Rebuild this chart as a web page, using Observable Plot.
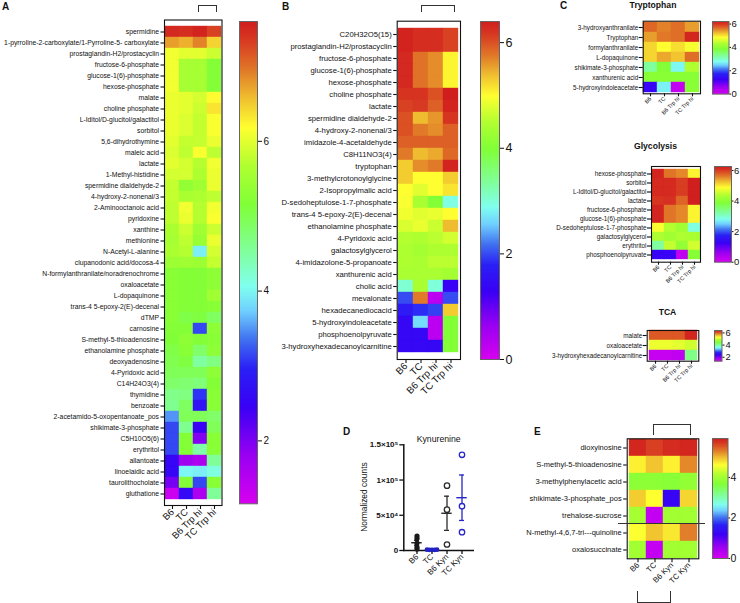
<!DOCTYPE html>
<html><head><meta charset="utf-8">
<script src="https://cdn.jsdelivr.net/npm/d3@7"></script>
<script src="https://cdn.jsdelivr.net/npm/@observablehq/plot@0.6"></script>
<style>
body{margin:0;background:#fff}
#root{position:relative;width:740px;height:603px;overflow:hidden;background:#fff;font-family:'Liberation Sans',Arial,Helvetica,sans-serif}
.lbl{position:absolute;white-space:nowrap;line-height:1;color:#111}
.br{position:absolute;box-sizing:border-box;border-color:#333;border-style:solid;border-width:0}
</style></head>
<body><div id="root"></div>
<script>
// ---------------- DATA ----------------
const groupsTrp = ["B6", "TC", "B6 Trp hi", "TC Trp hi"];
const groupsKyn = ["B6", "TC", "B6 Kyn", "TC Kyn"];

// Panel A
const aRows = ["spermidine","1-pyrroline-2-carboxylate/1-Pyrroline-5- carboxylate","prostaglandin-H2/prostacyclin","fructose-6-phosphate","glucose-1(6)-phosphate","hexose-phosphate","malate","choline phosphate","L-Iditol/D-glucitol/galactitol","sorbitol","5,6-dihydrothymine","maleic acid","lactate","1-Methyl-histidine","spermidine dialdehyde-2","4-hydroxy-2-nonenal/3","2-Aminooctanoic acid","pyridoxine","xanthine","methionine","N-Acetyl-L-alanine","clupanodonic acid/docosa-4","N-formylanthranilate/noradrenochrome","oxaloacetate","L-dopaquinone","trans-4 5-epoxy-2(E)-decenal","dTMP","carnosine","S-methyl-5-thioadenosine","ethanolamine phosphate","deoxyadenosine","4-Pyridoxic acid","C14H24O3(4)","thymidine","benzoate","2-acetamido-5-oxopentanoate_pos","shikimate-3-phosphate","C5H10O5(6)","erythritol","allantoate","linoelaidic acid","taurolithocholate","gluthatione"];
const aB6    = [7.5,6.75,6.1,6.1,6.1,6.1,6.05,6.05,6.05,6.05,6.0,5.95,6.0,5.9,5.8,5.8,5.75,5.75,5.6,5.55,5.6,5.45,5.25,5.25,5.25,5.25,5.25,5.2,5.15,5.05,5.0,4.95,4.85,4.65,4.6,3.5,3.15,3.15,3.15,2.55,2.55,2.05,1.3];
const aTC    = [7.45,6.65,6.0,5.55,5.55,5.55,6.0,6.0,5.95,5.95,5.8,5.75,5.9,5.9,5.35,5.6,6.1,6.05,5.85,5.75,5.7,5.5,5.2,5.2,5.2,5.2,5.05,5.2,5.3,5.25,5.1,4.95,4.8,4.7,4.9,4.95,4.6,5.2,5.2,1.75,4.0,5.2,2.6];
const aB6Trp = [7.55,6.9,6.0,5.55,5.55,5.55,5.9,5.85,5.8,5.8,5.8,6.15,5.7,5.65,5.5,5.65,5.7,5.7,5.5,5.4,3.95,5.45,5.2,5.2,5.2,5.2,5.1,3.15,5.2,4.85,4.5,4.95,4.75,3.05,2.75,4.95,2.45,1.95,4.45,1.6,3.95,3.15,1.6];
const aTCTrp = [7.3,6.45,5.85,5.2,5.2,5.2,6.2,6.35,6.15,6.15,6.05,5.75,6.1,6.05,6.05,5.75,6.1,6.15,5.85,6.05,5.9,5.8,5.3,5.3,5.5,5.25,4.9,5.3,5.25,5.3,4.7,5.3,5.2,5.25,5.25,4.85,4.95,5.25,5.25,4.55,4.15,5.25,4.55];

// Panel B
const bRows = ["C20H32O5(15)","prostaglandin-H2/prostacyclin","fructose-6-phosphate","glucose-1(6)-phosphate","hexose-phosphate","choline phosphate","lactate","spermidine dialdehyde-2","4-hydroxy-2-nonenal/3","imidazole-4-acetaldehyde","C8H11NO3(4)","tryptophan","3-methylcrotonoylglycine","2-Isopropylmalic acid","D-sedoheptulose-1-7-phosphate","trans-4 5-epoxy-2(E)-decenal","ethanolamine phosphate","4-Pyridoxic acid","galactosylglycerol","4-imidazolone-5-propanoate","xanthurenic acid","cholic acid","mevalonate","hexadecanediocacid","5-hydroxyindoleacetate","phosphoenolpyruvate","3-hydroxyhexadecanoylcarnitine"];
const bB6    = [6.35,6.35,6.3,6.3,6.3,6.2,6.1,6.0,6.0,5.9,5.75,5.3,5.3,5.0,4.95,4.9,4.75,4.5,4.45,4.45,4.4,3.05,2.0,1.7,1.4,1.4,1.4];
const bTC    = [6.25,6.25,5.8,5.8,5.8,6.2,6.15,5.4,5.75,5.9,5.4,5.65,5.0,4.8,4.4,4.8,4.85,4.45,4.35,4.4,4.4,4.4,5.75,1.85,2.65,1.4,1.4];
const bB6Trp = [6.25,6.25,5.65,5.65,5.65,6.0,5.9,5.6,5.65,5.9,5.5,5.75,5.0,5.0,4.0,4.85,4.65,4.55,4.45,4.55,4.4,3.0,0.3,1.95,0.3,0.3,1.4];
const bTCTrp = [6.1,6.1,5.05,5.05,5.05,6.4,6.35,6.2,5.9,5.9,5.85,6.35,5.3,5.15,2.95,5.0,5.4,4.7,4.45,4.55,4.35,1.3,2.0,5.3,4.0,4.0,4.0];

// Panel C – Tryptophan
const trpRows = ["3-hydroxyanthranilate","Tryptophan","formylanthranilate","L-dopaquinone","shikimate-3-phosphate","xanthurenic acid","5-hydroxyindoleacetate"];
const trpB6    = [5.7,5.4,5.1,5.1,3.25,3.95,1.3];
const trpTC    = [5.55,5.6,4.85,5.35,3.9,3.95,2.7];
const trpB6Trp = [5.65,5.65,5.05,5.2,2.75,3.95,0.2];
const trpTCTrp = [5.4,6.15,4.8,5.65,4.35,3.95,3.95];

// Panel C – Glycolysis
const glyRows = ["hexose-phosphate","sorbitol","L-Iditol/D-glucitol/galactitol","lactate","fructose-6-phosphate","glucose-1(6)-phosphate","D-sedoheptulose-1-7-phosphate","galactosylglycerol","erythritol","phosphoenolpyruvate"];
const glyB6    = [6.2,6.15,6.15,6.05,6.2,6.2,4.85,4.35,3.25,1.3];
const glyTC    = [5.65,6.15,6.15,6.1,5.65,5.65,4.4,4.2,4.5,1.3];
const glyB6Trp = [5.55,6.0,6.0,5.75,5.55,5.55,4.2,4.35,4.1,0.25];
const glyTCTrp = [4.95,6.25,6.25,6.25,4.95,4.95,2.9,4.3,4.6,3.95];

// Panel C – TCA
const tcaRows = ["malate","oxaloacetate","3-hydroxyhexadecanoylcarnitine"];
const tcaB6    = [6.05,5.2,1.5];
const tcaTC    = [6.05,5.2,1.5];
const tcaB6Trp = [6.05,5.15,1.55];
const tcaTCTrp = [6.35,5.05,4.1];

// Panel D – Kynurenine normalized counts
const kynB6    = [20500,17000,10500,5000,2000];
const kynTC    = [1200,900,1000,800,1100];
const kynB6Kyn = [92000,58000,8500];
const kynTCKyn = [135800,62900,26000];
const dTicks = [0, 50000, 100000, 150000];
const dTickLabels = ["0", "5×10⁴", "1×10⁵", "1.5×10⁵"];

// Panel E
const eRows = ["dioxyinosine","S-methyl-5-thioadenosine","3-methylphenylacetic acid","shikimate-3-phosphate_pos","trehalose-sucrose","N-methyl-4,6,7-tri---quinoline","oxalosuccinate"];
const eB6    = [5.85,4.7,3.8,4.9,4.05,4.6,4.0];
const eTC    = [5.65,4.95,3.8,4.62,0.2,4.95,0.2];
const eB6Kyn = [5.8,4.7,3.75,1.25,4.0,4.75,4.0];
const eTCKyn = [5.85,5.25,3.85,4.85,4.0,5.3,4.0];

// ---------------- STYLE ----------------
const FONT = "'Liberation Sans', Arial, Helvetica, sans-serif";
const stops = [[0,"#d800f0"],[0.10,"#9a00f2"],[0.20,"#3a00f5"],[0.28,"#2a20f5"],[0.34,"#4070f0"],[0.40,"#70d0ff"],[0.45,"#80fff0"],[0.52,"#80ffa0"],[0.62,"#80ff38"],[0.70,"#b0ff30"],[0.78,"#ffff30"],[0.84,"#f0c030"],[0.90,"#e07828"],[0.96,"#d83a22"],[1,"#d01e1e"]];
const root = document.getElementById("root");

function colorScale(lo, hi) {
  return {type: "linear", domain: stops.map(s => lo + s[0] * (hi - lo)), range: stops.map(s => s[1]), interpolate: "rgb", clamp: true};
}
function place(node, left, top) {
  node.style.position = "absolute";
  node.style.left = left + "px";
  node.style.top = top + "px";
  root.appendChild(node);
}
function baseStyle(fs) {
  return {background: "transparent", fontFamily: FONT, fontSize: fs + "px", overflow: "visible", color: "#111"};
}

function heat(o) {
  const data = [];
  o.rows.forEach((r, i) => o.groups.forEach((g, j) => data.push({row: r, group: g, value: o.cols[j][i]})));
  const p = Plot.plot({
    width: o.W, height: o.H,
    marginLeft: o.x0 - o.L, marginRight: o.L + o.W - o.x1,
    marginTop: o.y0 - o.T, marginBottom: o.T + o.H - o.y1,
    x: {domain: o.groups, padding: 0, label: null},
    y: {domain: o.rows, padding: 0, label: null},
    color: colorScale(o.lo, o.hi),
    style: baseStyle(o.fs),
    marks: [
      Plot.cell(data, {x: "group", y: "row", fill: "value", stroke: "value", strokeWidth: 0.4, inset: 0}),
      Plot.frame({stroke: "#111", strokeWidth: 1.1}),
      Plot.axisY({tickSize: o.tick, tickPadding: o.pad, fontSize: o.fs, label: null, strokeWidth: 1.1}),
      Plot.axisX({tickSize: o.xtick, tickPadding: 1, tickRotate: -45, fontSize: o.xfs, label: null, strokeWidth: 1.1})
    ]
  });
  place(p, o.L, o.T);
}

function colorbar(o) {
  const p = Plot.plot({
    width: (o.x1 - o.x0) + 30, height: (o.y1 - o.y0) + 16,
    marginLeft: 0, marginRight: 30, marginTop: 8, marginBottom: 8,
    x: {domain: [0, 1], axis: null},
    y: {domain: [o.lo, o.hi], label: null},
    color: colorScale(o.lo, o.hi),
    style: baseStyle(o.fs),
    marks: [
      Plot.raster({x1: 0, x2: 1, y1: o.lo, y2: o.hi, width: 1, height: 300, fill: (x, y) => y, imageRendering: "auto"}),
      Plot.frame({stroke: "#666", strokeWidth: 1}),
      Plot.axisY({anchor: "right", ticks: o.ticks, tickFormat: d => String(d), tickSize: o.tick ?? 4, tickPadding: o.pad ?? 2, fontSize: o.fs, label: null})
    ]
  });
  place(p, o.x0, o.y0 - 8);
}

function label(text, x, capTop, fs, opts = {}) {
  const d = document.createElement("div");
  d.className = "lbl";
  d.textContent = text;
  d.style.fontSize = fs + "px";
  if (opts.bold) d.style.fontWeight = "bold";
  d.style.top = (capTop - 0.13 * fs) + "px";
  d.style.left = x + "px";
  if (opts.center) d.style.transform = "translateX(-50%)";
  root.appendChild(d);
}
function bracket(left, top, w, h, sides) {
  const d = document.createElement("div");
  d.className = "br";
  Object.assign(d.style, {left: left + "px", top: top + "px", width: w + "px", height: h + "px"});
  sides.forEach(s => d.style["border" + s + "Width"] = "1.2px");
  root.appendChild(d);
}

// ---------------- PANEL A ----------------
heat({rows: aRows, groups: groupsTrp, cols: [aB6, aTC, aB6Trp, aTCTrp], lo: 1.16, hi: 7.6,
  L: 0, T: 0, W: 232, H: 562, x0: 164, x1: 221.5, y0: 19.5, y1: 505, fs: 6.8, xfs: 9.5, tick: 3.5, pad: 2, xtick: 4});
colorbar({x0: 239, x1: 257, y0: 20.7, y1: 503, lo: 1.16, hi: 7.6, ticks: [2, 4, 6], fs: 10});

// ---------------- PANEL B ----------------
heat({rows: bRows, groups: groupsTrp, cols: [bB6, bTC, bB6Trp, bTCTrp], lo: 0, hi: 6.4,
  L: 270, T: 0, W: 196, H: 412, x0: 396.7, x1: 460, y0: 20.7, y1: 359, fs: 7.7, xfs: 9.8, tick: 3.5, pad: 2, xtick: 4});
colorbar({x0: 480, x1: 499, y0: 21, y1: 359, lo: 0, hi: 6.4, ticks: [0, 2, 4, 6], fs: 12.5});

// ---------------- PANEL C ----------------
heat({rows: trpRows, groups: groupsTrp, cols: [trpB6, trpTC, trpB6Trp, trpTCTrp], lo: 0, hi: 6.22,
  L: 530, T: 0, W: 174, H: 132, x0: 642.7, x1: 700, y0: 20.7, y1: 93.3, fs: 6.3, xfs: 5.6, tick: 4, pad: 1, xtick: 3});
colorbar({x0: 712, x1: 728.5, y0: 20.7, y1: 93.3, lo: 0, hi: 6.22, ticks: [0, 2, 4, 6], fs: 9.5, tick: 1.5, pad: 1});

heat({rows: glyRows, groups: groupsTrp, cols: [glyB6, glyTC, glyB6Trp, glyTCTrp], lo: 0, hi: 6.26,
  L: 530, T: 155, W: 174, H: 142, x0: 651, x1: 700, y0: 166, y1: 261.7, fs: 6.3, xfs: 5.6, tick: 4, pad: 1, xtick: 3});
colorbar({x0: 713.5, x1: 730.5, y0: 166, y1: 261.7, lo: 0, hi: 6.26, ticks: [0, 2, 4, 6], fs: 9.5, tick: 1.5, pad: 1});

heat({rows: tcaRows, groups: groupsTrp, cols: [tcaB6, tcaTC, tcaB6Trp, tcaTCTrp], lo: 1.35, hi: 6.4,
  L: 530, T: 320, W: 172, H: 78, x0: 646.7, x1: 698.3, y0: 330, y1: 360.7, fs: 6.3, xfs: 5.6, tick: 4, pad: 1, xtick: 3});
colorbar({x0: 714, x1: 721.5, y0: 330, y1: 360.7, lo: 1.35, hi: 6.4, ticks: [2, 4, 6], fs: 9.3, tick: 2, pad: 1.5});

// ---------------- PANEL E ----------------
heat({rows: eRows, groups: groupsKyn, cols: [eB6, eTC, eB6Kyn, eTCKyn], lo: 0, hi: 5.92,
  L: 530, T: 430, W: 172, H: 173, x0: 626.7, x1: 698.3, y0: 438.3, y1: 558.3, fs: 7.5, xfs: 7.8, tick: 3.5, pad: 2, xtick: 4});
colorbar({x0: 712.3, x1: 727.8, y0: 438.3, y1: 558.3, lo: 0, hi: 5.92, ticks: [0, 2, 4], fs: 10.5, tick: 1.5, pad: 1});

// ---------------- PANEL D ----------------
const dSets = [kynB6, kynTC, kynB6Kyn, kynTCKyn];
const dColor = {"B6": "#1a1a1a", "TC": "#2020c4", "B6 Kyn": "#2a2a2a", "TC Kyn": "#2626c8"};
const dPoints = dSets.flatMap((arr, i) => arr.map((v, j) => ({group: groupsKyn[i], value: v, j})));
const dStats = dSets.map((arr, i) => {
  const m = d3.mean(arr), s = d3.deviation(arr) / Math.sqrt(arr.length);
  return {group: groupsKyn[i], mean: m, lo: m - s, hi: m + s};
});
const tcSpread = [-5, -2.5, 0, 2.5, 5];
{
  const L = 355, T = 435, W = 125, H = 165;
  const x0 = 403.3, x1 = 474, y0 = 444.3, y1 = 550;
  const p = Plot.plot({
    width: W, height: H,
    marginLeft: x0 - L, marginRight: L + W - x1, marginTop: y0 - T, marginBottom: T + H - y1,
    x: {type: "band", domain: groupsKyn, paddingInner: 0, paddingOuter: 0.21, label: null},
    y: {domain: [0, 150000], label: null},
    style: baseStyle(7.5),
    marks: [
      Plot.ruleY([0], {stroke: "#111", strokeWidth: 1.5}),
      Plot.frame({anchor: "left", stroke: "#111", strokeWidth: 1.5}),
      Plot.axisY({ticks: dTicks, tickFormat: d => dTickLabels[dTicks.indexOf(d)], tickSize: 4, tickPadding: 1.5, fontSize: 8, fontWeight: "bold", label: null, strokeWidth: 1.3}),
      Plot.axisX({tickSize: 4, tickPadding: 1, tickRotate: -45, fontSize: 8, label: null, strokeWidth: 1.3}),
      Plot.ruleX(dStats, {x: "group", y1: "lo", y2: "hi", stroke: d => dColor[d.group], strokeWidth: 1.3}),
      Plot.tickY(dStats, {x: "group", y: "lo", stroke: d => dColor[d.group], strokeWidth: 1.3, insetLeft: 5, insetRight: 5}),
      Plot.tickY(dStats, {x: "group", y: "hi", stroke: d => dColor[d.group], strokeWidth: 1.3, insetLeft: 5, insetRight: 5}),
      Plot.tickY(dStats, {x: "group", y: "mean", stroke: d => dColor[d.group], strokeWidth: 1.4, insetLeft: 2.3, insetRight: 2.3}),
      Plot.dot(dPoints.filter(d => d.group === "B6"), {x: "group", y: "value", r: 2.6, fill: dColor["B6"], stroke: "none"}),
      ...tcSpread.map((dx, j) => Plot.dot(dPoints.filter(d => d.group === "TC" && d.j === j), {x: "group", y: "value", r: 2.4, fill: dColor["TC"], stroke: "none", dx})),
      Plot.dot(dPoints.filter(d => d.group === "B6 Kyn"), {x: "group", y: "value", r: 2.7, fill: "white", stroke: dColor["B6 Kyn"], strokeWidth: 1.3}),
      Plot.dot(dPoints.filter(d => d.group === "TC Kyn"), {x: "group", y: "value", r: 2.7, fill: "white", stroke: dColor["TC Kyn"], strokeWidth: 1.3})
    ]
  });
  place(p, L, T);
}
{
  const d = document.createElement("div");
  d.className = "lbl";
  d.textContent = "Normalized counts";
  Object.assign(d.style, {fontSize: "8.4px", left: "364px", top: "497px", transform: "translate(-50%,-50%) rotate(-90deg)"});
  root.appendChild(d);
}

// ---------------- TEXT & ANNOTATIONS ----------------
label("A", 2, 3, 10, {bold: true});
label("B", 282, 3, 10, {bold: true});
label("C", 560, 2, 10, {bold: true});
label("D", 343, 428, 10, {bold: true});
label("E", 534, 428, 10, {bold: true});
label("Tryptophan", 653, 2, 8.6, {bold: true, center: true});
label("Glycolysis", 655.5, 142.7, 8.6, {bold: true, center: true});
label("TCA", 667.5, 309.3, 8.6, {bold: true, center: true});
label("Kynurenine", 438.7, 436, 8.7, {center: true});

bracket(198, 5, 19, 7, ["Top", "Left", "Right"]);
bracket(421, 5, 34, 7, ["Top", "Left", "Right"]);
bracket(653, 424, 38, 11, ["Top", "Left", "Right"]);
bracket(636.5, 591, 34.5, 12, ["Bottom", "Left", "Right"]);
bracket(618, 523, 87, 2, ["Top"]);
</script>
</body></html>
